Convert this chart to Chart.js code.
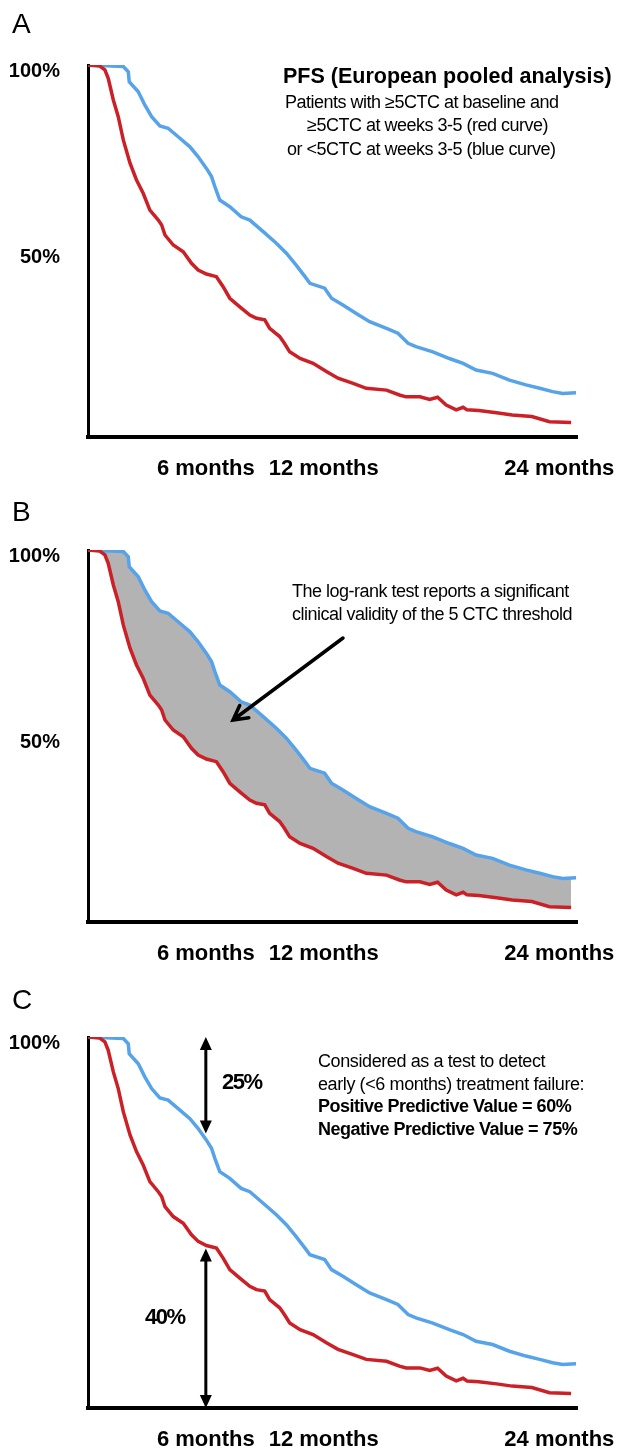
<!DOCTYPE html>
<html>
<head>
<meta charset="utf-8">
<script src="https://cdn.jsdelivr.net/npm/chart.js@4.4.0/dist/chart.umd.min.js"></script>
<style>
    html, body { margin: 0; padding: 0; background: #fff; }
    #wrap { position: relative; width: 618px; height: 1448px; }
    canvas { position: absolute; left: 0; }
</style>
</head>
<body>
<div id="wrap">
    <canvas id="panelA" width="618" height="490" style="top:0px"></canvas>
    <canvas id="panelB" width="618" height="490" style="top:490px"></canvas>
    <canvas id="panelC" width="618" height="468" style="top:980px"></canvas>
</div>
<script>
// PFS curves (months, % progression free)
const monthsBlue = [0, 1.8, 2.05, 2.1, 2.56, 2.9, 3.24, 3.66, 4.08, 4.68, 5.19, 5.6, 6.03, 6.29, 6.46, 6.71, 7.22, 7.8, 8.24, 8.92, 9.59, 10.1, 10.6, 11.05, 11.3, 12.05, 12.4, 12.98, 13.66, 14.34, 15.2, 15.78, 16.3, 16.7, 17.56, 18.4, 19.1, 19.76, 20.6, 21.46, 22.3, 23.0, 23.66, 24.17, 24.85];
const pfsBlue = [100, 99.6, 98.2, 95.5, 92.8, 89.2, 86.1, 83.6, 83.0, 80.3, 78.0, 75.4, 72.2, 70.0, 67.3, 63.7, 61.9, 59.2, 58.3, 55.2, 52.1, 49.4, 46.2, 43.1, 41.3, 40.0, 37.3, 35.5, 33.2, 31.0, 29.2, 27.9, 25.2, 24.3, 22.9, 21.1, 19.8, 18.0, 17.1, 15.3, 14.0, 13.1, 12.2, 11.7, 11.9];
const monthsRed = [0, 0.6, 0.86, 1.03, 1.29, 1.54, 1.8, 2.14, 2.47, 2.81, 3.15, 3.58, 3.75, 3.92, 4.34, 4.85, 5.27, 5.61, 6.03, 6.54, 6.88, 7.22, 7.73, 8.24, 8.58, 9.0, 9.25, 9.76, 10.0, 10.27, 10.8, 11.46, 12.14, 12.73, 13.5, 14.17, 15.2, 15.86, 16.2, 16.9, 17.4, 17.8, 18.24, 18.75, 19.1, 19.3, 19.9, 20.8, 21.6, 22.6, 23.5, 24.6];
const pfsRed = [100, 99.7, 98.7, 96.4, 90.6, 86.1, 79.8, 73.6, 69.1, 65.5, 61.0, 58.3, 57.0, 54.3, 51.6, 49.8, 46.7, 44.9, 43.8, 43.1, 40.4, 37.3, 35.0, 32.8, 31.9, 31.5, 29.2, 27.0, 25.2, 22.9, 21.1, 19.8, 17.6, 15.8, 14.4, 13.1, 12.6, 11.3, 10.8, 10.8, 10.1, 10.7, 8.6, 7.3, 8.0, 7.3, 7.1, 6.5, 5.9, 5.5, 4.1, 3.9];
const tickMonths = [6, 12, 24];
const tickPctAB = [50, 100];
const tickPctC = [100];
// panel C: gaps marked at 6 months
const gapMonth = 6;
const gapTop = [100, 74];
const gapBottom = [43, 0];

const FONT = '"Liberation Sans", Arial, sans-serif';
const RED = '#cc2027';
const BLUE = '#57a3ea';

function curve(months, pfs) {
    return months.map((m, i) => ({ x: m, y: pfs[i] }));
}

function text(ctx, str, x, y, size, bold, spacing) {
    ctx.font = (bold ? 'bold ' : '') + size + 'px ' + FONT;
    ctx.letterSpacing = (spacing || 0) + 'px';
    ctx.fillStyle = '#000';
    ctx.textAlign = 'left';
    ctx.textBaseline = 'middle';
    ctx.fillText(str, x, y);
}

function openArrow(ctx, x1, y1, x2, y2) {
    const a = Math.atan2(y2 - y1, x2 - x1);
    const len = 16;
    ctx.strokeStyle = '#000';
    ctx.lineWidth = 3.5;
    ctx.lineCap = 'round';
    ctx.beginPath();
    ctx.moveTo(x1, y1);
    ctx.lineTo(x2, y2);
    ctx.moveTo(x2 - len * Math.cos(a - 0.5), y2 - len * Math.sin(a - 0.5));
    ctx.lineTo(x2, y2);
    ctx.lineTo(x2 - len * Math.cos(a + 0.5), y2 - len * Math.sin(a + 0.5));
    ctx.stroke();
}

function doubleArrow(ctx, x, yTop, yBot) {
    const h = 13, w = 6;
    ctx.strokeStyle = '#000';
    ctx.fillStyle = '#000';
    ctx.lineWidth = 3;
    ctx.beginPath();
    ctx.moveTo(x, yTop + h - 2);
    ctx.lineTo(x, yBot - h + 2);
    ctx.stroke();
    ctx.beginPath();
    ctx.moveTo(x, yTop);
    ctx.lineTo(x - w, yTop + h);
    ctx.lineTo(x + w, yTop + h);
    ctx.closePath();
    ctx.fill();
    ctx.beginPath();
    ctx.moveTo(x, yBot);
    ctx.lineTo(x - w, yBot - h);
    ctx.lineTo(x + w, yBot - h);
    ctx.closePath();
    ctx.fill();
}

function panelConfig(p, shaded, yTicks, notes) {
    return {
        type: 'line',
        data: {
            datasets: [
                {
                    label: '≥5CTC at weeks 3-5',
                    data: curve(monthsRed, pfsRed),
                    borderColor: RED,
                    borderWidth: 3.5,
                    pointRadius: 0,
                    fill: false
                },
                {
                    label: '<5CTC at weeks 3-5',
                    data: curve(monthsBlue, pfsBlue),
                    borderColor: BLUE,
                    borderWidth: 3.5,
                    pointRadius: 0,
                    backgroundColor: '#b3b3b3',
                    fill: shaded ? '-1' : false
                }
            ]
        },
        options: {
            responsive: false,
            animation: false,
            layout: { padding: { top: p.plotTop - p.top, right: 41, left: 0, bottom: 0 } },
            plugins: { legend: { display: false }, tooltip: { enabled: false } },
            scales: {
                x: {
                    type: 'linear',
                    min: 0,
                    max: 24.9,
                    grid: { display: false, drawTicks: false },
                    border: { color: '#000', width: 4 },
                    afterBuildTicks: s => { s.ticks = tickMonths.map(v => ({ value: v })); },
                    afterFit: s => {
                        s.height = p.top + p.height - p.plotBottom;
                        s.paddingLeft = 0;
                        s.paddingRight = 0;
                    },
                    ticks: {
                        padding: 19,
                        maxRotation: 0,
                        autoSkip: false,
                        color: '#000',
                        font: { family: FONT, size: 22, weight: 'bold' },
                        callback: v => v + ' months'
                    }
                },
                y: {
                    min: 0,
                    max: 100,
                    grid: { display: false, drawTicks: false },
                    border: { color: '#000', width: 3 },
                    afterBuildTicks: s => { s.ticks = yTicks.map(v => ({ value: v })); },
                    afterFit: s => {
                        s.width = 88;
                        s.paddingTop = 0;
                        s.paddingBottom = 0;
                    },
                    ticks: {
                        padding: 28,
                        labelOffset: 6,
                        color: '#000',
                        font: { family: FONT, size: 20, weight: 'bold' },
                        callback: v => v + '%'
                    }
                }
            }
        },
        plugins: [{
            id: 'notes' + p.letter,
            afterDraw(chart) {
                const ctx = chart.ctx;
                ctx.save();
                text(ctx, p.letter, 12, p.letterY - p.top, 28, false, 0);
                notes(ctx, chart, y => y - p.top);
                ctx.restore();
            }
        }]
    };
}

const panelA = { letter: 'A', top: 0, height: 490, plotTop: 65, plotBottom: 437, letterY: 25 };
const panelB = { letter: 'B', top: 490, height: 490, plotTop: 550, plotBottom: 922, letterY: 513 };
const panelC = { letter: 'C', top: 980, height: 468, plotTop: 1037, plotBottom: 1408, letterY: 1001 };

const graficaA = new Chart(
    document.getElementById('panelA'),
    panelConfig(panelA, false, tickPctAB, (ctx, chart, Y) => {
        text(ctx, 'PFS (European pooled analysis)', 283, Y(77), 21.5, true, 0);
        text(ctx, 'Patients with ≥5CTC at baseline and', 285, Y(103), 18, false, -0.5);
        text(ctx, '≥5CTC at weeks 3-5 (red curve)', 307, Y(126), 18, false, -0.5);
        text(ctx, 'or <5CTC at weeks 3-5 (blue curve)', 287, Y(150), 18, false, -0.5);
    })
);

const graficaB = new Chart(
    document.getElementById('panelB'),
    panelConfig(panelB, true, tickPctAB, (ctx, chart, Y) => {
        text(ctx, 'The log-rank test reports a significant', 292, Y(592), 18, false, -0.5);
        text(ctx, 'clinical validity of the 5 CTC threshold', 292, Y(615), 18, false, -0.5);
        openArrow(ctx, 343, Y(638), 233, Y(720));
    })
);

const graficaC = new Chart(
    document.getElementById('panelC'),
    panelConfig(panelC, false, tickPctC, (ctx, chart, Y) => {
        const xs = chart.scales.x, ys = chart.scales.y;
        const x6 = xs.getPixelForValue(gapMonth);
        doubleArrow(ctx, x6, ys.getPixelForValue(gapTop[0]), ys.getPixelForValue(gapTop[1]));
        doubleArrow(ctx, x6, ys.getPixelForValue(gapBottom[0]), ys.getPixelForValue(gapBottom[1]));
        text(ctx, '25%', 222, Y(1083), 22, true, -1.5);
        text(ctx, '40%', 145, Y(1318), 22, true, -1.5);
        text(ctx, 'Considered as a test to detect', 318, Y(1062), 18, false, -0.4);
        text(ctx, 'early (<6 months) treatment failure:', 318, Y(1085), 18, false, -0.4);
        text(ctx, 'Positive Predictive Value = 60%', 318, Y(1107), 18, true, -0.5);
        text(ctx, 'Negative Predictive Value = 75%', 318, Y(1130), 18, true, -0.5);
    })
);
</script>
</body>
</html>
